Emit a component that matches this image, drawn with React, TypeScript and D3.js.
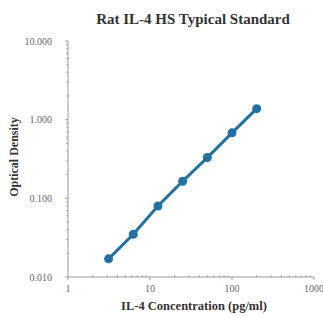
import { useEffect, useRef } from 'react'
import * as d3 from 'd3'

const concentrations = [3.125, 6.25, 12.5, 25, 50, 100, 200]
const densities = [0.017, 0.035, 0.08, 0.165, 0.33, 0.68, 1.38]
const yTicks = [0.01, 0.1, 1, 10]
const xTicks = [1, 10, 100, 1000]

export default function App() {
  const ref = useRef<SVGSVGElement>(null)

  useEffect(() => {
    const svg = d3.select(ref.current)
    svg.selectAll('*').remove()

    const x = d3.scaleLog().domain([1, 1000]).range([68, 314])
    const y = d3.scaleLog().domain([0.01, 10]).range([277, 41])
    const font = '"Liberation Serif", "Times New Roman", serif'

    // minor ticks
    const minorY: number[] = []
    const minorX: number[] = []
    for (let d = 0.01; d < 10; d *= 10) for (let k = 2; k <= 9; k++) minorY.push(d * k)
    for (let d = 1; d < 1000; d *= 10) for (let k = 2; k <= 9; k++) minorX.push(d * k)

    svg.append('g').selectAll('line').data(minorY).join('line')
      .attr('x1', 66).attr('x2', 68)
      .attr('y1', d => y(d)).attr('y2', d => y(d))
      .attr('stroke', '#aaa').attr('stroke-width', 1)
    svg.append('g').selectAll('line').data(yTicks).join('line')
      .attr('x1', 65).attr('x2', 68)
      .attr('y1', d => y(d)).attr('y2', d => y(d))
      .attr('stroke', '#999').attr('stroke-width', 1)
    svg.append('g').selectAll('line').data(minorX).join('line')
      .attr('x1', d => x(d)).attr('x2', d => x(d))
      .attr('y1', 275).attr('y2', 277)
      .attr('stroke', '#aaa').attr('stroke-width', 1)
    svg.append('g').selectAll('line').data(xTicks).join('line')
      .attr('x1', d => x(d)).attr('x2', d => x(d))
      .attr('y1', 277).attr('y2', 280)
      .attr('stroke', '#999').attr('stroke-width', 1)

    // axis lines
    svg.append('line').attr('x1', 68).attr('x2', 68).attr('y1', 41).attr('y2', 277)
      .attr('stroke', '#999').attr('stroke-width', 1)
    svg.append('line').attr('x1', 68).attr('x2', 314).attr('y1', 277).attr('y2', 277)
      .attr('stroke', '#999').attr('stroke-width', 1)

    // tick labels
    svg.append('g').selectAll('text').data(yTicks).join('text')
      .attr('x', 52).attr('y', d => y(d) + 3.5)
      .attr('text-anchor', 'end')
      .style('font-family', font).style('font-size', '10px').style('fill', '#666')
      .text(d => d3.format('.3f')(d))
    svg.append('g').selectAll('text').data(xTicks).join('text')
      .attr('x', d => x(d)).attr('y', 292)
      .attr('text-anchor', 'middle')
      .style('font-family', font).style('font-size', '10px').style('fill', '#666')
      .text(d => String(d))

    // series
    const pts = concentrations.map((c, i) => [c, densities[i]] as [number, number])
    svg.append('path')
      .datum(pts)
      .attr('d', d3.line<[number, number]>().x(d => x(d[0])).y(d => y(d[1])))
      .attr('fill', 'none').attr('stroke', '#2370a3').attr('stroke-width', 3)
    svg.append('g').selectAll('circle').data(pts).join('circle')
      .attr('cx', d => x(d[0])).attr('cy', d => y(d[1])).attr('r', 4.5)
      .attr('fill', '#2370a3')

    // titles
    svg.append('text').attr('x', 193).attr('y', 24).attr('text-anchor', 'middle')
      .style('font-family', font).style('font-size', '15px').style('font-weight', 'bold').style('fill', '#333')
      .text('Rat IL-4 HS Typical Standard')
    svg.append('text').attr('x', 194).attr('y', 310).attr('text-anchor', 'middle')
      .style('font-family', font).style('font-size', '12.5px').style('font-weight', 'bold').style('fill', '#333')
      .text('IL-4 Concentration (pg/ml)')
    svg.append('text').attr('transform', 'translate(18,157) rotate(-90)').attr('text-anchor', 'middle')
      .style('font-family', font).style('font-size', '12px').style('font-weight', 'bold').style('fill', '#333')
      .text('Optical Density')
  }, [])

  return (
    <svg ref={ref} width={323} height={318}
      style={{ position: 'absolute', left: 0, top: 0, background: '#fff' }} />
  )
}
